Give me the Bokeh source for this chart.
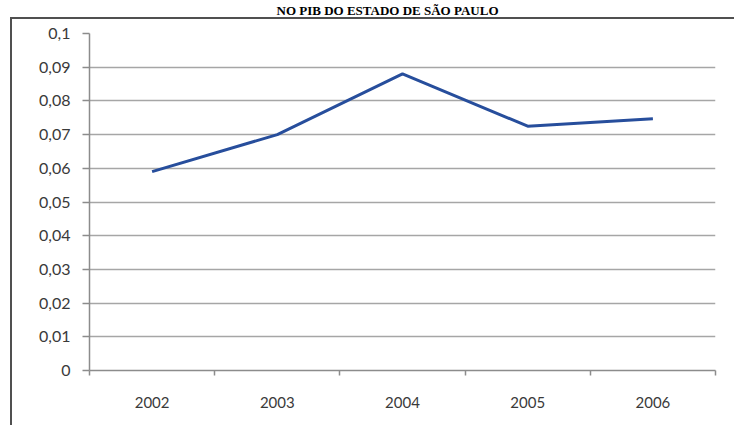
from bokeh.plotting import figure
from bokeh.models import Range1d, FixedTicker, LinearAxis, Grid, Title
from bokeh.embed import file_html
from bokeh.resources import INLINE

# ---- data ----
title_text = "NO PIB DO ESTADO DE SÃO PAULO"
years = ["2002", "2003", "2004", "2005", "2006"]
values = [0.059, 0.070, 0.088, 0.0725, 0.0747]
y_ticks = [0, 0.01, 0.02, 0.03, 0.04, 0.05, 0.06, 0.07, 0.08, 0.09, 0.1]
y_tick_labels = ["0", "0,01", "0,02", "0,03", "0,04", "0,05",
                 "0,06", "0,07", "0,08", "0,09", "0,1"]

n = len(years)
x_pos = [i + 0.5 for i in range(n)]
boundaries = list(range(n + 1))

GRID = "#a6a6a6"
AXIS = "#8c8c8c"
LABEL = "#3a3a3a"
FONT = "Lato"
BOX = "#505050"

p = figure(width=734, height=425, output_backend="svg", toolbar_location=None,
           title=None,
           x_range=Range1d(0, n), y_range=Range1d(y_ticks[0], y_ticks[-1]),
           x_axis_type=None, y_axis_type=None,
           min_border_left=89, min_border_right=19,
           min_border_top=33, min_border_bottom=55)
# chart box edges (left and top) drawn behind a transparent canvas
p.styles = {
    "position": "absolute", "left": "0px", "top": "0px",
    "background-color": "white",
    "background-image": f"linear-gradient({BOX}, {BOX}), linear-gradient({BOX}, {BOX})",
    "background-position": "10px 17px, 10px 17px",
    "background-size": "2px 420px, 730px 2px",
    "background-repeat": "no-repeat, no-repeat",
}
p.outline_line_color = None
p.background_fill_color = None
p.border_fill_color = None

# invisible spacer panel next to the frame
p.add_layout(Title(text=" ", text_font_size="1px", standoff=13,
                   text_color="white"), "above")

# title strip above the chart box (outermost panel)
p.add_layout(Title(text=title_text, align="left", offset=187, standoff=0,
                   text_font="Liberation Serif", text_font_style="bold",
                   text_font_size="13px", text_color="black"), "above")

yticker = FixedTicker(ticks=y_ticks, minor_ticks=[])
ya = LinearAxis(ticker=yticker,
                major_label_overrides=dict(zip(y_ticks, y_tick_labels)),
                axis_line_color=AXIS, axis_line_width=1.5,
                major_tick_line_color=AXIS, major_tick_line_width=1.5,
                major_tick_out=7, major_tick_in=0,
                minor_tick_line_color=None,
                major_label_standoff=12,
                major_label_text_font=FONT,
                major_label_text_font_size="16px",
                major_label_text_color=LABEL)
p.add_layout(ya, "left")

xticker = FixedTicker(ticks=x_pos, minor_ticks=boundaries)
xa = LinearAxis(ticker=xticker,
                major_label_overrides=dict(zip(x_pos, years)),
                axis_line_color=AXIS, axis_line_width=1.5,
                major_tick_line_color=None, major_tick_out=0, major_tick_in=0,
                minor_tick_line_color=AXIS, minor_tick_line_width=1.5,
                minor_tick_out=5, minor_tick_in=0,
                major_label_standoff=21,
                major_label_text_font=FONT,
                major_label_text_font_size="15px",
                major_label_text_color=LABEL)
p.add_layout(xa, "below")

p.add_layout(Grid(dimension=1, ticker=yticker,
                  grid_line_color=GRID, grid_line_width=1.5))

p.line(x_pos, values, line_color="#274e9c", line_width=3)

open("out.html", "w").write(file_html(p, INLINE))
